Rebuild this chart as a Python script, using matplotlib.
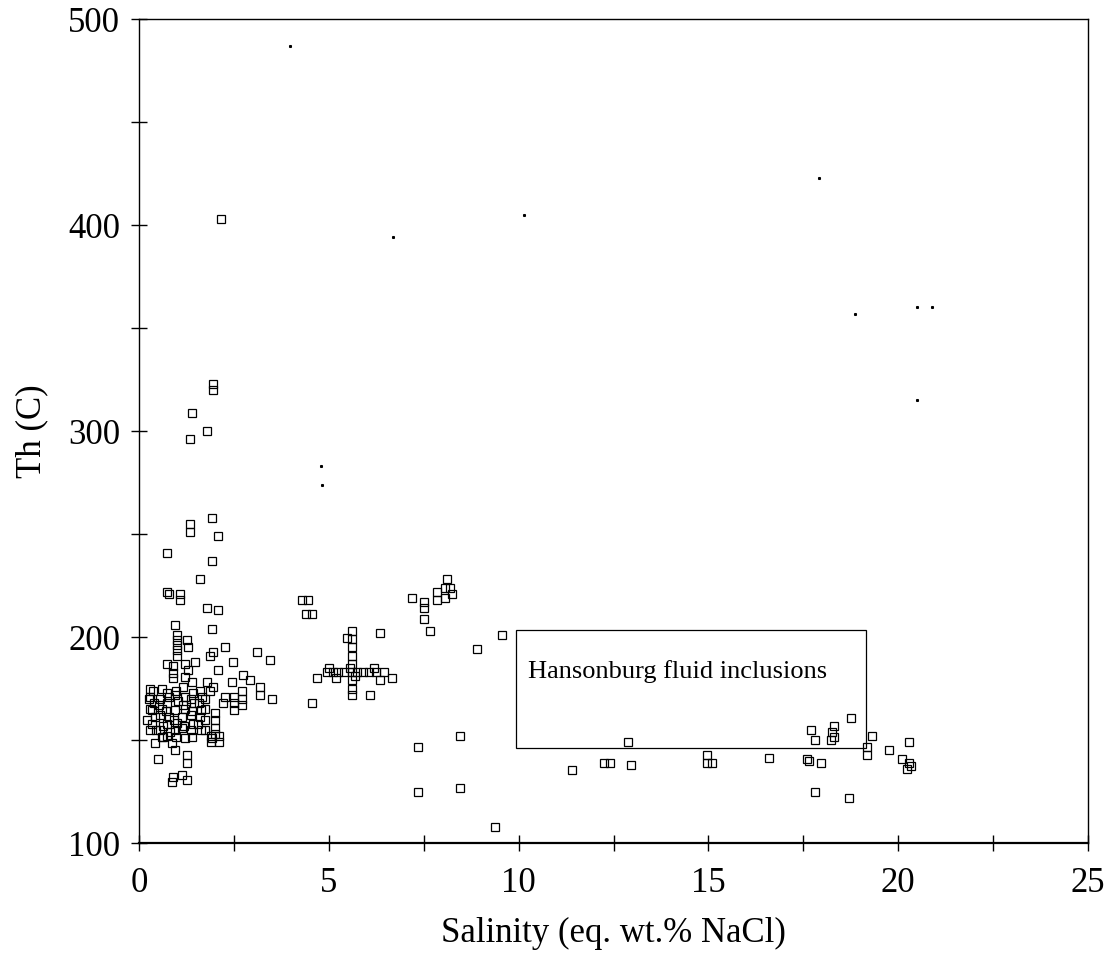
import matplotlib.pyplot as plt
from matplotlib.patches import Rectangle
from matplotlib.ticker import MultipleLocator

plt.rcParams['font.family'] = ['Liberation Serif', 'DejaVu Serif']

# Salinity (eq. wt.% NaCl) vs homogenisation temperature Th (C)
salinity = [
    # outliers above the main cluster
    2.15, 1.95, 1.95, 1.4, 1.79, 1.34, 1.92, 1.34, 1.34, 2.08, 0.74, 1.92,
    1.6, 0.74, 0.8, 1.08, 1.08, 1.8, 2.08, 1.92,
    # upper part of the main cluster
    0.95, 1.0, 1.0, 1.0, 1.0, 1.0, 1.26, 1.29, 0.74, 0.9, 1.2, 1.47,
    1.29, 0.9, 0.9, 1.2, 1.4, 1.87, 1.87, 1.8, 1.95, 2.26, 3.1, 3.45,
    2.47, 2.08, 2.74, 2.92, 2.45, 3.18, 3.18, 3.5, 2.7, 2.7, 2.7, 2.5,
    2.5, 2.5, 2.26, 2.2, 1.95, 1.74, 1.74, 1.74, 1.74, 2.0, 2.0, 2.0,
    2.0, 1.92, 1.9, 2.1, 1.9, 2.1,
    # dense core
    0.37, 0.6, 0.74, 0.98, 1.16, 1.42, 1.6,
    0.3, 0.55, 0.8, 0.95, 1.22, 1.36, 1.66,
    0.4, 0.52, 0.74, 1.02, 1.16, 1.45, 1.58,
    0.33, 0.6, 0.7, 0.95, 1.2, 1.4, 1.64,
    0.42, 0.55, 0.78, 0.92, 1.12, 1.36, 1.6,
    0.35, 0.62, 0.74, 1.0, 1.18, 1.42, 1.55,
    0.45, 0.55, 0.82, 0.95, 1.14, 1.38, 1.62,
    0.6, 0.74, 0.98, 1.2, 1.4,
    # lower part of the main cluster
    0.42, 0.63, 0.87, 0.95, 0.5, 1.26, 1.26, 0.9, 0.87, 1.13, 1.26,
    0.3, 0.25, 0.3, 0.22, 0.3,
    # cluster near 5-6.5 %
    4.3, 4.45, 4.4, 4.55, 4.55, 4.7, 6.34, 6.08, 5.47,
    4.95, 5.1, 5.25, 5.4, 5.6, 5.75, 5.9, 6.05, 6.25, 6.45,
    5.6, 5.6, 5.6, 5.6, 5.6, 5.6, 5.6, 5.6,
    6.34, 6.66, 5.0, 5.2, 6.2, 5.7, 5.55,
    # cluster near 7-9.5 %
    7.2, 7.5, 7.5, 7.5, 7.66, 7.85, 7.85, 8.05, 8.24, 8.05, 8.1, 8.2,
    8.9, 9.55, 8.45, 7.34, 7.34, 8.45, 9.37,
    # high salinity
    11.4, 12.25, 12.4, 12.87, 12.97, 14.95, 14.95, 15.1, 16.6, 17.6,
    17.66, 17.97, 17.8, 18.7, 17.7, 17.8, 18.3, 18.26, 18.3, 18.24,
    18.76, 19.3, 19.18, 19.18, 19.76, 20.29, 20.1, 20.29, 20.34, 20.24,
]
th = [
    403, 323, 320, 309, 300, 296, 258, 255, 251, 249, 241, 237,
    228, 222, 221, 221, 218, 214, 213, 204,
    206, 201, 198.5, 196, 193.7, 191, 198.5, 195, 187, 186, 187, 188,
    184, 182.5, 180, 180.5, 178, 191, 174, 178, 193, 195, 193, 189,
    188, 184, 181.5, 179, 178, 176, 172, 170, 174, 170, 167, 171,
    168, 164.5, 171, 168, 176, 170, 165, 160, 155, 163, 160, 156,
    153, 151, 152, 152, 149, 149,
    174, 175, 173, 174, 176, 173, 174,
    171, 170, 171, 172, 171, 170, 171,
    168, 167, 168, 169, 167, 168, 168,
    164.5, 165, 164, 164.5, 165, 164, 164.5,
    161, 162, 161, 160, 161, 162, 161,
    158, 157, 158, 158.5, 157, 158, 158,
    155, 155, 154, 155, 156, 155, 155,
    151.5, 152, 151.5, 151, 151.5,
    148.5, 151.5, 148.5, 145, 141, 142.7, 139, 132, 129.6, 133, 130.6,
    175, 170, 165, 160, 155,
    218, 218, 211, 211, 168, 180, 202, 172, 199.5,
    183, 183, 183, 183, 183, 183, 183, 183, 183, 183,
    203, 199, 195, 191, 187, 179, 175, 172,
    179, 180, 185, 180, 185, 181, 185,
    219, 217, 214, 209, 203, 222, 218, 224, 221, 219, 228, 224,
    194, 201, 152, 146.6, 125, 127, 108,
    135.5, 139, 139, 149, 138, 142.7, 139, 139, 141.5, 141,
    140, 139, 125, 122, 155, 150, 157, 154, 151.5, 150,
    160.7, 152, 146.6, 142.7, 145, 149, 141, 139, 137.4, 136,
]

# small specks printed in the original figure
speck_x = [4.78, 4.82, 10.15, 17.9, 18.85, 20.5, 20.9, 20.5, 3.97, 6.7]
speck_y = [283, 274, 405, 423, 357, 360, 360, 315, 487, 394]

fig = plt.figure(figsize=(11.04, 9.77), dpi=100)
ax = fig.add_axes([0.126, 0.137, 0.8595, 0.8435])

ax.plot(salinity, th, linestyle='none', marker='s', markersize=6.0,
        markerfacecolor='none', markeredgecolor='black', markeredgewidth=0.9)
ax.plot(speck_x, speck_y, linestyle='none', marker='s', markersize=1.2,
        color='black')

ax.add_patch(Rectangle((9.92, 146), 9.24, 57.4, fill=False,
                       edgecolor='black', linewidth=0.9))
ax.text(10.25, 183.5, 'Hansonburg fluid inclusions', fontsize=19,
        va='center', ha='left')

ax.set_xlim(0, 25)
ax.set_ylim(100, 500)
ax.xaxis.set_major_locator(MultipleLocator(5))
ax.xaxis.set_minor_locator(MultipleLocator(2.5))
ax.yaxis.set_major_locator(MultipleLocator(100))
ax.yaxis.set_minor_locator(MultipleLocator(50))
ax.tick_params(which='both', direction='inout', length=11, width=1,
               labelsize=25)
ax.tick_params(axis='x', pad=12)
ax.tick_params(axis='y', pad=8, right=False)
ax.tick_params(axis='y', which='minor', right=False)
for s in ax.spines.values():
    s.set_linewidth(1.0)
ax.spines['bottom'].set_linewidth(1.6)

ax.set_xlabel('Salinity (eq. wt.% NaCl)', fontsize=25, labelpad=12)
ax.set_ylabel('Th (C)', fontsize=25, labelpad=14)

fig.savefig('out.png', dpi=100)
